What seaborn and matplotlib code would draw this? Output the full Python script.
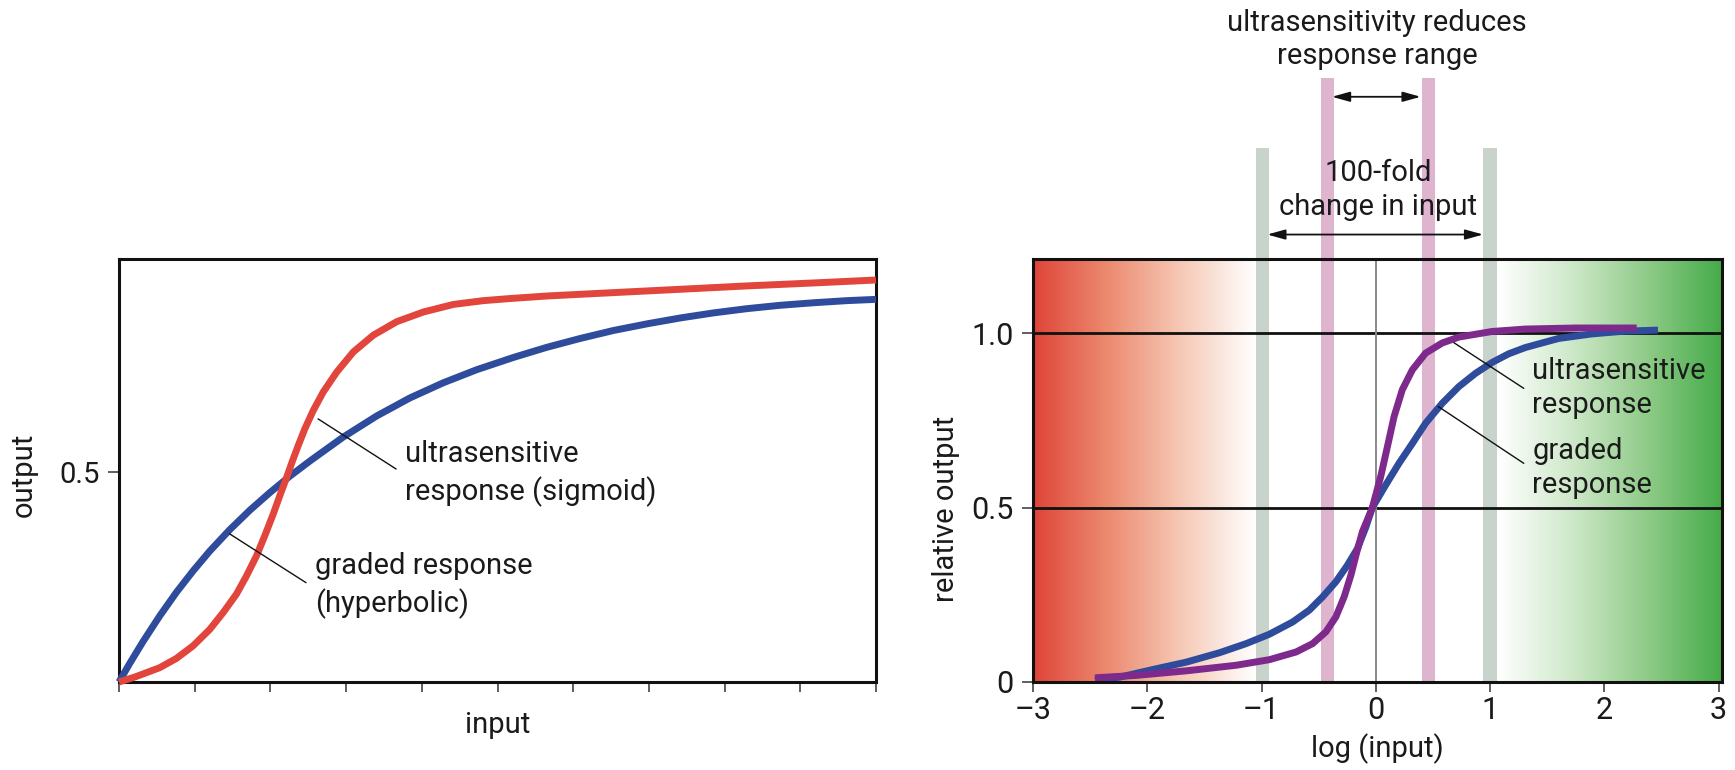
import numpy as np
import matplotlib
matplotlib.use("Agg")
import matplotlib.pyplot as plt
from matplotlib.colors import LinearSegmentedColormap
import seaborn as sns

# ---- left panel: linear input
graded_x = [0.0, 0.141, 0.317, 0.538, 0.758, 0.979, 1.199, 1.464, 1.728, 1.993, 2.257, 2.522, 2.963, 3.404,
            3.845, 4.286, 4.727, 5.21, 5.65, 6.09, 6.53, 6.98, 7.42, 7.86, 8.3, 8.74, 9.18, 9.62, 10.0]
graded_y = [0.0, 0.044, 0.096, 0.157, 0.213, 0.264, 0.311, 0.362, 0.408, 0.45, 0.489, 0.525, 0.582, 0.632,
            0.675, 0.711, 0.742, 0.771, 0.795, 0.816, 0.835, 0.851, 0.865, 0.877, 0.887, 0.895, 0.901, 0.906, 0.909]
sigmoid_x = [0.0, 0.212, 0.538, 0.758, 0.979, 1.199, 1.376, 1.552, 1.684, 1.817, 1.927, 2.037, 2.125, 2.214,
             2.293, 2.368, 2.456, 2.566, 2.698, 2.875, 3.095, 3.36, 3.669, 4.021, 4.418, 4.815, 5.168, 5.65,
             6.53, 7.42, 8.3, 9.18, 10.0]
sigmoid_y = [0.0, 0.012, 0.034, 0.056, 0.086, 0.125, 0.165, 0.209, 0.252, 0.3, 0.348, 0.399, 0.443, 0.486,
             0.526, 0.562, 0.602, 0.645, 0.689, 0.736, 0.784, 0.824, 0.856, 0.879, 0.897, 0.906, 0.911, 0.917,
             0.925, 0.933, 0.941, 0.948, 0.955]

# ---- right panel: log input
log_graded_x = [-2.458, -2.24, -1.949, -1.658, -1.367, -1.135, -0.931, -0.728, -0.582, -0.466, -0.35, -0.248,
                -0.16, -0.088, -0.03, 0.087, 0.203, 0.32, 0.436, 0.581, 0.727, 0.873, 1.017, 1.163, 1.309, 1.6,
                1.89, 2.18, 2.47]
log_graded_y = [0.005, 0.014, 0.036, 0.057, 0.084, 0.11, 0.137, 0.172, 0.206, 0.244, 0.287, 0.335, 0.383, 0.443,
                0.5, 0.565, 0.627, 0.684, 0.742, 0.799, 0.847, 0.885, 0.916, 0.941, 0.959, 0.985, 0.998, 1.006,
                1.009]
log_ultra_x = [-2.458, -2.094, -1.658, -1.222, -0.931, -0.698, -0.553, -0.436, -0.349, -0.277, -0.218, -0.169,
               -0.117, -0.03, 0.043, 0.102, 0.16, 0.232, 0.32, 0.436, 0.581, 0.727, 1.017, 1.309, 1.745, 2.283]
log_ultra_y = [0.012, 0.019, 0.032, 0.048, 0.064, 0.086, 0.11, 0.144, 0.187, 0.244, 0.306, 0.369, 0.431, 0.5,
               0.589, 0.675, 0.761, 0.838, 0.895, 0.943, 0.972, 0.989, 1.005, 1.012, 1.015, 1.015]

grey_bands = [-0.99, 1.0]
pink_bands = [-0.42, 0.46]
ref_levels = [0.5, 1.0]
right_xticks = [-3, -2, -1, 0, 1, 2, 3]
right_xticklabels = ["\u20133", "\u20132", "\u20131", "0", "1", "2", "3"]
right_yticks = [0, 0.5, 1.0]
right_yticklabels = ["0", "0.5", "1.0"]

RED = "#E2453C"
BLUE = "#2F4C9C"
PURPLE = "#7D2A8C"
INK = "#1A1A1A"
LW = 5.0

sns.set_theme(style="white")
plt.rcParams["font.family"] = ["Roboto", "DejaVu Sans"]
plt.rcParams["text.color"] = INK
plt.rcParams["axes.labelcolor"] = INK
plt.rcParams["xtick.color"] = "#333333"
plt.rcParams["ytick.color"] = "#333333"
plt.rcParams["xtick.labelcolor"] = INK
plt.rcParams["ytick.labelcolor"] = INK

fig = plt.figure(figsize=(17.35, 7.7), dpi=100)
axL = fig.add_axes([0.0686, 0.1143, 0.4363, 0.5494])
axR = fig.add_axes([0.5954, 0.1143, 0.3971, 0.5494])

FS = 21

# ---------------- left ----------------
sns.lineplot(x=graded_x, y=graded_y, ax=axL, color=BLUE, linewidth=LW, estimator=None, sort=False,
             solid_capstyle="butt", solid_joinstyle="round", clip_on=False, zorder=3)
sns.lineplot(x=sigmoid_x, y=sigmoid_y, ax=axL, color=RED, linewidth=LW, estimator=None, sort=False,
             solid_capstyle="butt", solid_joinstyle="round", clip_on=False, zorder=3)
axL.set_xlim(0, 10)
axL.set_ylim(0, 1.005)
axL.set_xticks(range(11))
axL.set_xticklabels([])
axL.set_yticks([0.5])
axL.set_yticklabels(["0.5"], fontsize=FS)
axL.tick_params(axis="x", bottom=True, direction="out", length=7, width=1.1)
axL.tick_params(axis="y", left=True, direction="out", length=8, width=1.1, pad=6)
for s in axL.spines.values():
    s.set_linewidth(2.2)
    s.set_color("#111111")
axL.set_xlabel("input", fontsize=FS, va="top")
axL.xaxis.set_label_coords(0.5, -0.068)
axL.set_ylabel("output", fontsize=FS, va="bottom")
axL.yaxis.set_label_coords(-0.107, 0.49)

axL.plot([2.63, 3.66], [0.625, 0.506], color="#111111", lw=1.0, zorder=4)
axL.plot([1.46, 2.47], [0.352, 0.236], color="#111111", lw=1.0, zorder=4)
# va="baseline" on multi-line text pins the last line
axL.text(3.78, 0.431, "ultrasensitive\nresponse (sigmoid)", fontsize=FS, ha="left", va="baseline",
         linespacing=1.38)
axL.text(2.59, 0.165, "graded response\n(hyperbolic)", fontsize=FS, ha="left", va="baseline", linespacing=1.38)

# ---------------- right ----------------
XMIN, XMAX, YMAX = -3, 3.03, 1.213
axR.set_xlim(XMIN, XMAX)
axR.set_ylim(0, YMAX)

grad = np.linspace(0, 1, 256).reshape(1, -1)
red_cmap = LinearSegmentedColormap.from_list("rw", ["#DF4438", "#EC8A70", "#F6C9B6", "#FFFFFF"])
green_cmap = LinearSegmentedColormap.from_list("wg", ["#FFFFFF", "#CDE8C8", "#8FCB88", "#45AB49"])
axR.imshow(grad, cmap=red_cmap, extent=[XMIN, -1.05, 0, YMAX], aspect="auto", zorder=0)
axR.imshow(grad, cmap=green_cmap, extent=[1.07, XMAX, 0, YMAX], aspect="auto", zorder=0)

axR.bar(grey_bands, [1.531] * 2, width=0.115, color="#C8D3CC", clip_on=False, zorder=1, linewidth=0)
axR.bar(pink_bands, [1.732] * 2, width=0.115, color="#DEB4CF", clip_on=False, zorder=1, linewidth=0)
for lv in ref_levels:
    axR.axhline(lv, color="#111111", lw=2.0, zorder=2)
axR.axvline(0, color="#8A8A8A", lw=1.4, zorder=2)

sns.lineplot(x=log_graded_x, y=log_graded_y, ax=axR, color=BLUE, linewidth=LW, estimator=None, sort=False,
             solid_capstyle="butt", solid_joinstyle="round", zorder=3)
sns.lineplot(x=log_ultra_x, y=log_ultra_y, ax=axR, color=PURPLE, linewidth=LW, estimator=None, sort=False,
             solid_capstyle="butt", solid_joinstyle="round", zorder=3)

axR.set_xticks(right_xticks)
axR.set_xticklabels(right_xticklabels, fontsize=FS + 1)
axR.set_yticks(right_yticks)
axR.set_yticklabels(right_yticklabels, fontsize=FS + 1)
axR.tick_params(axis="x", bottom=True, direction="out", length=7, width=1.1, pad=3)
axR.tick_params(axis="y", left=True, direction="out", length=8, width=1.1, pad=6)
for s in axR.spines.values():
    s.set_linewidth(2.2)
    s.set_color("#111111")
    s.set_zorder(5)
axR.set_xlabel("log (input)", fontsize=FS, va="top")
axR.xaxis.set_label_coords(0.5, -0.122)
axR.set_ylabel("relative output", fontsize=FS, va="bottom")
axR.yaxis.set_label_coords(-0.106, 0.41)

axR.plot([0.683, 1.295], [0.973, 0.842], color="#111111", lw=1.0, zorder=4)
axR.plot([0.546, 1.295], [0.79, 0.627], color="#111111", lw=1.0, zorder=4)
axR.text(1.37, 0.77, "ultrasensitive\nresponse", fontsize=FS, ha="left", va="baseline", linespacing=1.3, zorder=6)
axR.text(1.37, 0.541, "graded\nresponse", fontsize=FS, ha="left", va="baseline", linespacing=1.3, zorder=6)

axR.text(0.01, 1.771, "ultrasensitivity reduces\nresponse range", fontsize=FS, ha="center", va="baseline",
         linespacing=1.25, zorder=6)
axR.text(0.02, 1.340, "100-fold\nchange in input", fontsize=FS, ha="center", va="baseline", linespacing=1.25,
         zorder=6)
arrow = dict(arrowstyle="<|-|>,head_length=0.9,head_width=0.25", color="#111111", lw=1.3, shrinkA=0, shrinkB=0)
axR.annotate("", xy=(0.94, 1.283), xytext=(-0.95, 1.283), arrowprops=arrow, annotation_clip=False)
axR.annotate("", xy=(0.393, 1.678), xytext=(-0.384, 1.678), arrowprops=arrow, annotation_clip=False)

fig.savefig("out.png", dpi=100)
